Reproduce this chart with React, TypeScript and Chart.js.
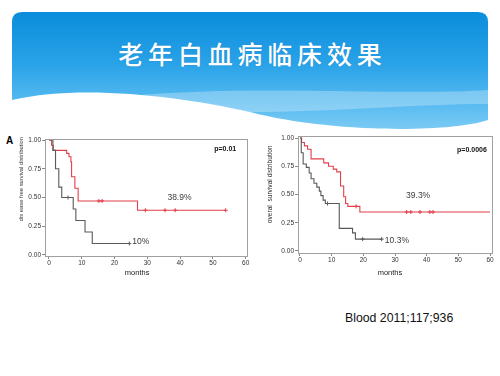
import React, { useEffect, useRef } from "react";
import { Chart, registerables } from "chart.js";

Chart.register(...registerables);

// ---------- data ----------
const xTickValues = [0, 10, 20, 30, 40, 50, 60];
const yTickValues = [0, 0.25, 0.5, 0.75, 1];

// Panel A (left): disease free survival
const dfsRedX = [0, 0.8, 1.3, 5.4, 6.1, 6.7, 6.9, 7.9, 8.9, 27, 53.9];
const dfsRedY = [1, 0.955, 0.91, 0.884, 0.855, 0.81, 0.68, 0.58, 0.47, 0.389, 0.389];
const dfsRedCensor = [15.2, 16.2, 29.4, 35.4, 38.5, 53.9];
const dfsGrayX = [0, 1.2, 2.0, 3.0, 3.9, 7.4, 8.2, 11.0, 13.2, 24.5];
const dfsGrayY = [1, 0.91, 0.75, 0.59, 0.5, 0.4, 0.3, 0.2, 0.1, 0.1];
const dfsGrayCensor = [5.8, 24.5];

// right: overall survival
const osRedX = [0, 0.5, 1.4, 2.4, 3.5, 7.5, 9.0, 10.5, 11.6, 12.8, 13.8, 14.4, 15.1, 18.9, 60];
const osRedY = [1, 0.96, 0.93, 0.9, 0.815, 0.78, 0.75, 0.725, 0.7, 0.575, 0.48, 0.42, 0.395, 0.345, 0.345];
const osRedCensor = [17.7, 33.7, 35, 37.9, 41, 42];
const osGrayX = [0, 0.4, 1.0, 2.0, 2.9, 3.5, 4.4, 5.3, 6.1, 6.6, 7.3, 8.0, 12.4, 16.6, 17.5, 25.8];
const osGrayY = [1, 0.87, 0.77, 0.74, 0.69, 0.64, 0.6, 0.565, 0.53, 0.49, 0.45, 0.42, 0.2, 0.16, 0.105, 0.105];
const osGrayCensor = [8.7, 19.8, 25.8];

const titleText = "老年白血病临床效果";
const citation = "Blood 2011;117;936";

const RED = "#e0404a";
const GRAY = "#595959";
const FONT = "'Liberation Sans', Arial, sans-serif";

// ---------- helpers ----------
function stepAt(xs: number[], ys: number[], t: number) {
  let v = ys[0];
  for (let i = 0; i < xs.length; i++) if (xs[i] <= t) v = ys[i];
  return v;
}
const pts = (xs: number[], ys: number[]) => xs.map((x, i) => ({ x, y: ys[i] }));
const cens = (cx: number[], xs: number[], ys: number[]) =>
  cx.map((x) => ({ x, y: stepAt(xs, ys, x) }));

const kmText = {
  id: "kmText",
  afterDatasetsDraw(chart: any, _args: any, opts: any) {
    const { ctx, chartArea, scales } = chart;
    ctx.save();
    ctx.strokeStyle = "#a0a0a0";
    ctx.lineWidth = 1;
    ctx.strokeRect(
      Math.round(chartArea.left) + 0.5,
      Math.round(chartArea.top) + 0.5,
      Math.round(chartArea.right - chartArea.left),
      Math.round(chartArea.bottom - chartArea.top)
    );
    for (const t of opts.items || []) {
      ctx.save();
      ctx.font = t.font;
      ctx.fillStyle = t.color || "#333";
      ctx.textAlign = t.align || "center";
      ctx.textBaseline = "middle";
      const px = t.dx !== undefined ? chartArea.left + t.dx : scales.x.getPixelForValue(t.x);
      const py = t.dy !== undefined ? chartArea.bottom + t.dy : scales.y.getPixelForValue(t.y);
      ctx.translate(px, py);
      if (t.rotate) ctx.rotate(-Math.PI / 2);
      ctx.fillText(t.text, 0, 0);
      ctx.restore();
    }
    ctx.restore();
  },
};

type KMProps = {
  left: number;
  top: number;
  width: number;
  height: number;
  pad: { top: number; right: number };
  yWidth: number;
  xHeight: number;
  xRange: [number, number];
  yRange: [number, number];
  red: { x: number[]; y: number[]; c: number[] };
  gray: { x: number[]; y: number[]; c: number[] };
  texts: any[];
};

function KMChart(p: KMProps) {
  const ref = useRef<HTMLCanvasElement | null>(null);
  useEffect(() => {
    if (!ref.current) return;
    const tickFont = { family: FONT, size: 6.5 };
    const chart = new Chart(ref.current, {
      type: "line",
      data: {
        datasets: [
          {
            data: pts(p.gray.x, p.gray.y),
            borderColor: GRAY,
            borderWidth: 1.1,
            stepped: true,
            pointRadius: 0,
            fill: false,
          },
          {
            data: pts(p.red.x, p.red.y),
            borderColor: RED,
            borderWidth: 1.1,
            stepped: true,
            pointRadius: 0,
            fill: false,
          },
          {
            data: cens(p.gray.c, p.gray.x, p.gray.y),
            showLine: false,
            pointStyle: "cross",
            pointRadius: 2,
            borderColor: GRAY,
            borderWidth: 1,
          },
          {
            data: cens(p.red.c, p.red.x, p.red.y),
            showLine: false,
            pointStyle: "cross",
            pointRadius: 2,
            borderColor: RED,
            borderWidth: 1,
          },
        ],
      } as any,
      options: {
        animation: false,
        responsive: false,
        layout: { padding: { top: p.pad.top, right: p.pad.right, left: 0, bottom: 0 } },
        plugins: {
          legend: { display: false },
          tooltip: { enabled: false },
          kmText: { items: p.texts },
        } as any,
        scales: {
          x: {
            type: "linear",
            min: p.xRange[0],
            max: p.xRange[1],
            afterBuildTicks: (s: any) => {
              s.ticks = xTickValues.map((v) => ({ value: v }));
            },
            afterFit: (s: any) => {
              s.height = p.xHeight;
              s.paddingLeft = 0;
              s.paddingRight = 0;
            },
            border: { display: false },
            grid: { drawOnChartArea: false, drawTicks: true, tickLength: 3, color: "#888" },
            ticks: {
              font: tickFont,
              color: "#333",
              padding: 0,
              maxRotation: 0,
              autoSkip: false,
              callback: (v: any) => String(v),
            },
          },
          y: {
            type: "linear",
            min: p.yRange[0],
            max: p.yRange[1],
            afterBuildTicks: (s: any) => {
              s.ticks = yTickValues.map((v) => ({ value: v }));
            },
            afterFit: (s: any) => {
              s.width = p.yWidth;
              s.paddingTop = 0;
              s.paddingBottom = 0;
            },
            border: { display: false },
            grid: { drawOnChartArea: false, drawTicks: true, tickLength: 3, color: "#888" },
            ticks: {
              font: tickFont,
              color: "#333",
              padding: 1,
              autoSkip: false,
              callback: (v: any) => Number(v).toFixed(2),
            },
          },
        },
      } as any,
      plugins: [kmText as any],
    });
    return () => chart.destroy();
  }, []);
  return (
    <canvas
      ref={ref}
      width={p.width}
      height={p.height}
      style={{ position: "absolute", left: p.left, top: p.top, width: p.width, height: p.height }}
    />
  );
}

const pctFont = `8.5px ${FONT}`;
const pFont = `bold 7px ${FONT}`;
const monthsFont = `7.5px ${FONT}`;

const leftTexts = [
  { text: "38.9%", x: 39.8, y: 0.5, font: pctFont, color: "#3a3a3a" },
  { text: "10%", x: 28, y: 0.12, font: pctFont, color: "#3a3a3a" },
  { text: "p=0.01", x: 57.1, y: 0.92, font: pFont, align: "right", color: "#111" },
  { text: "months", x: 26.9, dy: 17, font: monthsFont, color: "#222" },
  { text: "dis ease free survival distribution", dx: -24, y: 0.66, rotate: true, font: `5.8px ${FONT}`, color: "#333" },
];
const rightTexts = [
  { text: "39.3%", x: 37.3, y: 0.487, font: pctFont, color: "#3a3a3a" },
  { text: "10.3%", x: 30.6, y: 0.088, font: pctFont, color: "#3a3a3a" },
  { text: "p=0.0006", x: 59.0, y: 0.894, font: pFont, align: "right", color: "#111" },
  { text: "months", x: 28.4, dy: 20, font: monthsFont, color: "#222" },
  { text: "overal  survival distribution", dx: -28, y: 0.59, rotate: true, font: `6.6px ${FONT}`, color: "#333" },
];

function Banner() {
  return (
    <svg width={500} height={140} style={{ position: "absolute", left: 0, top: 0 }}>
      <defs>
        <linearGradient id="bg" x1="0" y1="12" x2="0" y2="130" gradientUnits="userSpaceOnUse">
          <stop offset="0" stopColor="#0a8ddb" />
          <stop offset="0.45" stopColor="#2aa3e8" />
          <stop offset="0.8" stopColor="#5bbcf1" />
          <stop offset="1" stopColor="#7ccbf4" />
        </linearGradient>
      </defs>
      <path
        d="M 12 22 Q 12 12 22 12 L 478 12 Q 488 12 488 22 L 488 120 C 450 133, 330 133, 250 112 C 180 96, 80 84, 12 100 Z"
        fill="url(#bg)"
      />
      <path
        d="M 130 96 C 250 84, 400 96, 488 90 L 488 104 C 420 104, 330 112, 250 112 C 210 104, 170 98, 130 96 Z"
        fill="rgba(255,255,255,0.28)"
      />
    </svg>
  );
}

export default function App() {
  return (
    <div
      style={{
        position: "fixed",
        left: 0,
        top: 0,
        width: 500,
        height: 376,
        overflow: "hidden",
        background: "#ffffff",
      }}
    >
      <Banner />
      <div
        style={{
          position: "absolute",
          left: 0,
          top: 38,
          width: 500,
          textAlign: "center",
          color: "#ffffff",
          fontFamily: "'Noto Sans CJK SC', sans-serif",
          fontSize: 25,
          fontWeight: 500,
          lineHeight: "30px",
          letterSpacing: 4.8,
          paddingLeft: 4.8,
          boxSizing: "border-box",
          textShadow: "0 0 1px rgba(0,60,120,0.3)",
        }}
      >
        {titleText}
      </div>
      <div
        style={{
          position: "absolute",
          left: 6,
          top: 135,
          fontFamily: FONT,
          fontWeight: "bold",
          fontSize: 10,
          lineHeight: "12px",
          color: "#000",
        }}
      >
        A
      </div>
      <KMChart
        left={0}
        top={128}
        width={252}
        height={152}
        pad={{ top: 11, right: 4 }}
        yWidth={45}
        xHeight={24}
        xRange={[-1.21, 60.4]}
        yRange={[-0.0087, 1.0087]}
        red={{ x: dfsRedX, y: dfsRedY, c: dfsRedCensor }}
        gray={{ x: dfsGrayX, y: dfsGrayY, c: dfsGrayCensor }}
        texts={leftTexts}
      />
      <KMChart
        left={252}
        top={128}
        width={248}
        height={152}
        pad={{ top: 8, right: 8 }}
        yWidth={46}
        xHeight={27}
        xRange={[-0.63, 60.63]}
        yRange={[-0.0177, 1.0177]}
        red={{ x: osRedX, y: osRedY, c: osRedCensor }}
        gray={{ x: osGrayX, y: osGrayY, c: osGrayCensor }}
        texts={rightTexts}
      />
      <div
        style={{
          position: "absolute",
          left: 345,
          top: 311,
          fontFamily: FONT,
          fontSize: 12.3,
          lineHeight: "14px",
          color: "#111",
          whiteSpace: "nowrap",
        }}
      >
        {citation}
      </div>
    </div>
  );
}
